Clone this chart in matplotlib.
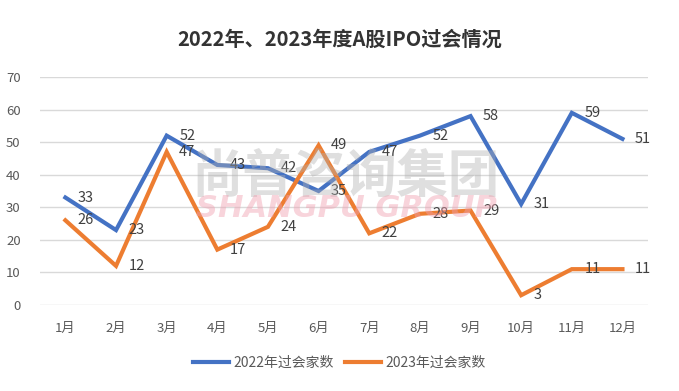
import matplotlib
matplotlib.use("Agg")
import matplotlib.pyplot as plt

plt.rcParams['font.family'] = ['Noto Sans CJK SC', 'DejaVu Sans']

months = ['1月', '2月', '3月', '4月', '5月', '6月', '7月', '8月', '9月', '10月', '11月', '12月']
y2022 = [33, 23, 52, 43, 42, 35, 47, 52, 58, 31, 59, 51]
y2023 = [26, 12, 47, 17, 24, 49, 22, 28, 29, 3, 11, 11]
series_names = ['2022年过会家数', '2023年过会家数']
title = '2022年、2023年度A股IPO过会情况'
yticks = [0, 10, 20, 30, 40, 50, 60, 70]

fig = plt.figure(figsize=(6.79, 3.91), dpi=100)
ax = fig.add_axes([0.059, 0.22, 0.895, 0.583])

x = list(range(len(months)))
c1, c2 = '#4472C4', '#ED7D31'
l1, = ax.plot(x, y2022, color=c1, lw=3, solid_joinstyle='miter', label=series_names[0], zorder=3)
l2, = ax.plot(x, y2023, color=c2, lw=3, solid_joinstyle='miter', label=series_names[1], zorder=3)

for xi, v in zip(x, y2022):
    ax.annotate(str(v), (xi, v), xytext=(9, 0), textcoords='offset points',
                va='center', ha='left', fontsize=10.5, color='#404040', zorder=4)
for xi, v in zip(x, y2023):
    ax.annotate(str(v), (xi, v), xytext=(9, 0), textcoords='offset points',
                va='center', ha='left', fontsize=10.5, color='#404040', zorder=4)

ax.set_xlim(-0.5, 11.5)
ax.set_ylim(0, 70)
ax.set_yticks(yticks)
ax.set_xticks(x)
ax.set_xticklabels(months)
ax.grid(axis='y', color='#d9d9d9', lw=1)
ax.set_axisbelow(True)
for s in ax.spines.values():
    s.set_visible(False)
ax.tick_params(length=0, colors='#595959', labelsize=9.5)
ax.tick_params(axis='x', pad=12)
ax.tick_params(axis='y', pad=14)

fig.text(0.5, 0.9, title, ha='center', va='center', fontsize=14.5, fontweight='bold', color='#333333')

# watermark
fig.text(0.51, 0.55, '尚普咨询集团', ha='center', va='center', fontsize=37, fontweight='bold',
         color='#b0b0b0', alpha=0.4, zorder=0)
fig.text(0.51, 0.468, 'SHANGPU GROUP', ha='center', va='center', fontsize=22, style='italic',
         fontweight='bold', color='#f0a0b0', alpha=0.45, zorder=0, family='DejaVu Sans')

fig.legend(handles=[l1, l2], loc='center', bbox_to_anchor=(0.5, 0.073), ncol=2, frameon=False,
           fontsize=10, labelcolor='#595959', handlelength=2.6, columnspacing=0.8, handletextpad=0.3)

fig.savefig('out.png', dpi=100)
